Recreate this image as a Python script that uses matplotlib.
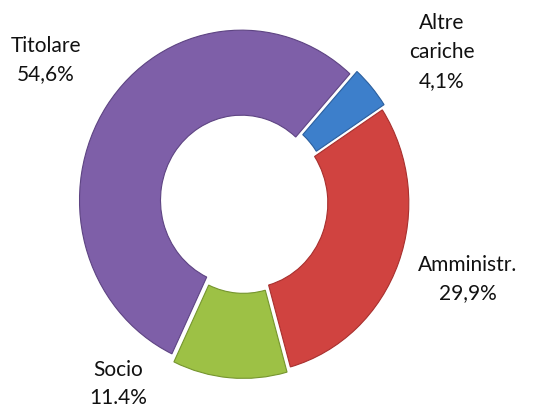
import matplotlib
matplotlib.use('Agg')
import matplotlib.pyplot as plt

# Dati del grafico (ordine orario partendo da "Altre cariche")
categorie = ['Altre\ncariche', 'Amministr.', 'Socio', 'Titolare']
valori = [4.1, 29.9, 11.4, 54.6]
etichette = ['4,1%', '29,9%', '11.4%', '54,6%']
colori = ['#3D7FCB', '#D04340', '#9DC145', '#7E5FA8']
bordi = ['#2B5F9E', '#A8302E', '#75952E', '#5E4483']

plt.rcParams['font.family'] = ['Lato', 'DejaVu Sans']

W, H = 560, 408
sy = 1.05  # leggero allungamento verticale dell'anello

fig = plt.figure(figsize=(W / 100, H / 100), dpi=100)
ax = fig.add_axes([0, 0, 1, 1])

# Coordinate in pixel (x da sinistra, y dall'alto)
cx, cy = 244, 202
raggio = 162

wedges, _ = ax.pie(valori, colors=colori, startangle=48, counterclock=False,
                   center=(cx, (H - cy) / sy), radius=raggio,
                   explode=[6, 3, 6, 3],
                   wedgeprops=dict(width=raggio * 0.5, linewidth=0.8),
                   frame=True)
for w, b in zip(wedges, bordi):
    w.set_edgecolor(b)

ax.set_aspect('auto')
ax.set_xlim(0, W)
ax.set_ylim(0, H / sy)
ax.axis('off')

# Posizioni delle etichette (pixel dall'alto)
pos_etichette = [(442, 52), (468, 279), (118, 384), (46, 60)]
for cat, perc, (x, y) in zip(categorie, etichette, pos_etichette):
    fig.text(x / W, 1 - y / H, cat + '\n' + perc, ha='center', va='center',
             fontsize=15, color='#111111', linespacing=1.55)

fig.savefig('out.png', dpi=100)
